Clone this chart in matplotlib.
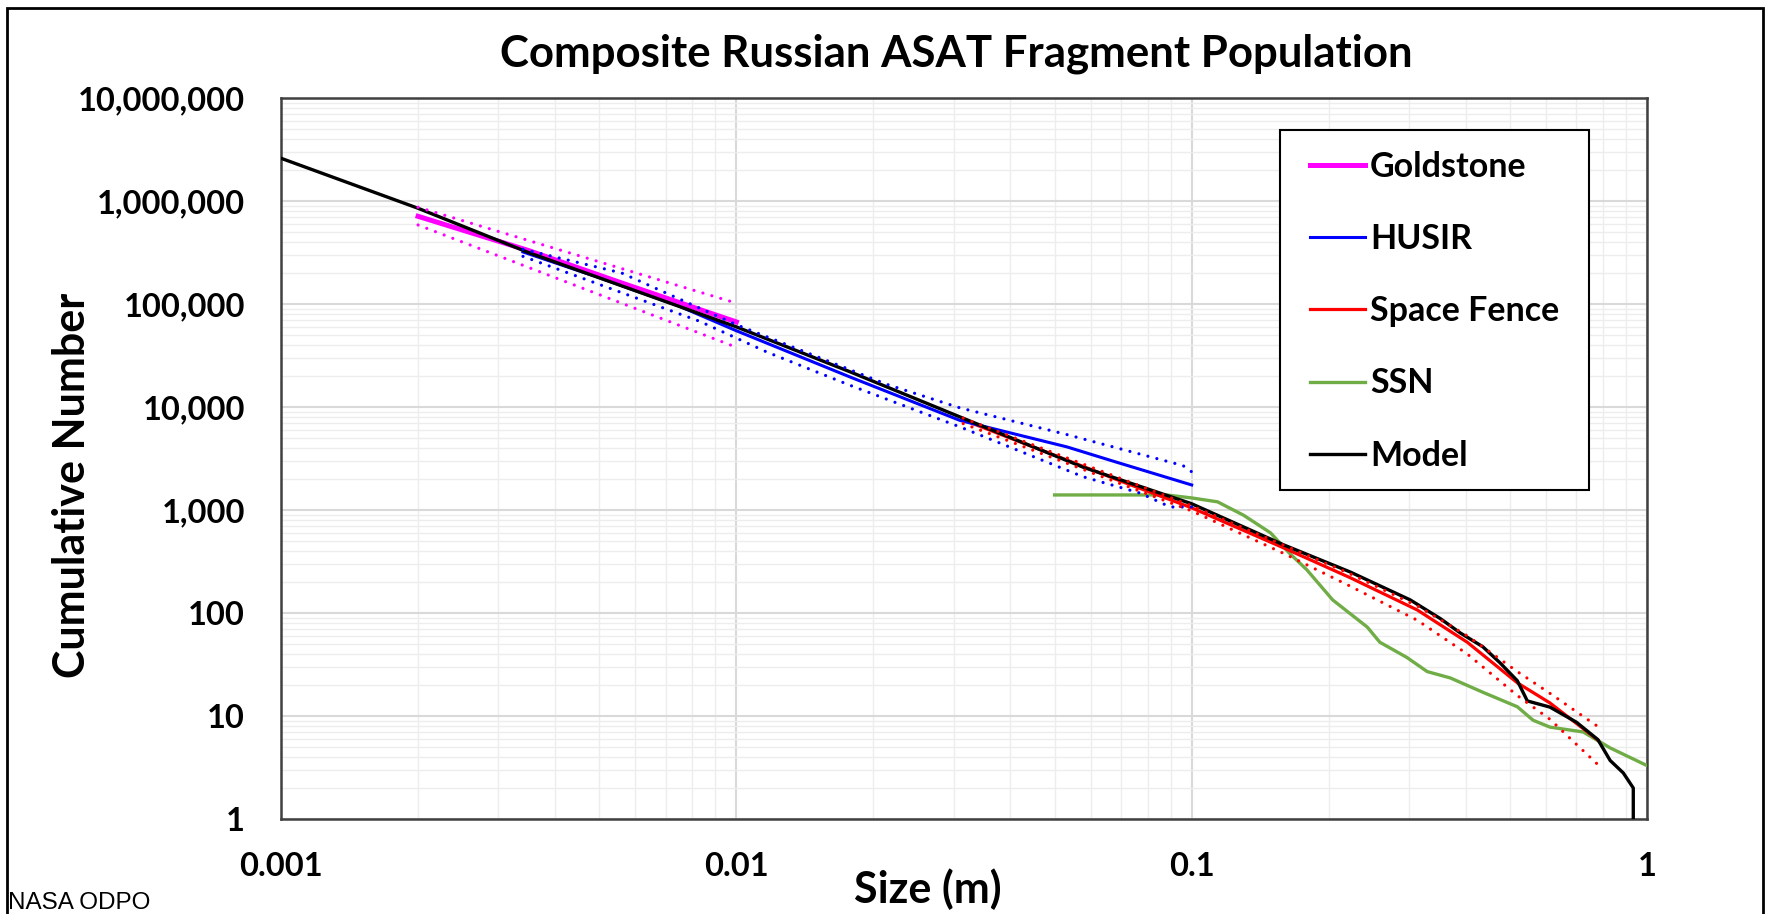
import matplotlib
matplotlib.use('Agg')
import matplotlib.pyplot as plt
from matplotlib.ticker import FixedLocator, FixedFormatter, LogLocator, NullFormatter
from matplotlib.patches import Rectangle

# data (size in m, cumulative number)
model_x = [0.001, 0.002, 0.00347, 0.01, 0.0178, 0.031, 0.0578, 0.1, 0.159, 0.223, 0.263,
           0.302, 0.352, 0.389, 0.436, 0.475, 0.519, 0.546, 0.612, 0.70, 0.78, 0.83, 0.887,
           0.933, 0.933]
model_y = [2.6e6, 8.5e5, 3.2e5, 6.0e4, 2.19e4, 8.0e3, 2.6e3, 1.15e3, 460, 250, 178,
           134, 88, 64, 47, 33, 22, 14, 12.2, 8.7, 5.9, 3.7, 2.8,
           2.0, 1.0]

gold_x = [0.002, 0.0035, 0.0056, 0.01]
gold_y = [7.1e5, 3.3e5, 1.6e5, 6.7e4]
gold_hi_x = [0.002, 0.01]
gold_hi_y = [8.7e5, 1.02e5]
gold_lo_x = [0.002, 0.01]
gold_lo_y = [5.85e5, 3.8e4]

husir_x = [0.0034, 0.005, 0.0075, 0.01, 0.0178, 0.031, 0.0532, 0.0686, 0.1]
husir_y = [3.2e5, 1.8e5, 9.5e4, 5.5e4, 1.95e4, 7.4e3, 4.1e3, 2.9e3, 1.75e3]
husir_hi_x = [0.0034, 0.0056, 0.01, 0.0214, 0.031, 0.0532, 0.0957, 0.1]
husir_hi_y = [3.4e5, 2.0e5, 6.3e4, 1.66e4, 9.8e3, 5.4e3, 2.7e3, 2.35e3]
husir_lo_x = [0.0034, 0.0083, 0.0117, 0.0178, 0.031, 0.0578, 0.077, 0.0897, 0.1]
husir_lo_y = [2.9e5, 6.8e4, 3.4e4, 1.62e4, 6.4e3, 2.1e3, 1.46e3, 1.07e3, 1.07e3]

fence_x = [0.0315, 0.05, 0.07, 0.1, 0.159, 0.223, 0.313, 0.403, 0.519, 0.612, 0.78]
fence_y = [7.5e3, 3.4e3, 1.9e3, 1.05e3, 430, 220, 107, 52, 21, 13.4, 5.85]
fence_b_x = [0.0315, 0.1, 0.159, 0.223, 0.313, 0.403, 0.519, 0.612, 0.79]
fence_hi_y = [7.8e3, 1.1e3, 457, 240, 117, 60, 27, 16.6, 7.6]
fence_lo_y = [6.9e3, 980, 380, 182, 85, 40, 15.8, 9.3, 3.2]

ssn_x = [0.05, 0.088, 0.1, 0.114, 0.13, 0.149, 0.164, 0.179, 0.204, 0.243, 0.259,
         0.297, 0.329, 0.37, 0.436, 0.519, 0.562, 0.612, 0.724, 0.83, 1.0]
ssn_y = [1400, 1400, 1310, 1200, 890, 600, 380, 263, 134, 73, 52,
         37, 27, 23.4, 17, 12.3, 9.1, 7.8, 7.0, 4.9, 3.3]

x_ticks = [0.001, 0.01, 0.1, 1]
x_labels = ['0.001', '0.01', '0.1', '1']
y_ticks = [1, 10, 100, 1000, 1e4, 1e5, 1e6, 1e7]
y_labels = ['1', '10', '100', '1,000', '10,000', '100,000', '1,000,000', '10,000,000']

W, H = 1766, 914
fig = plt.figure(figsize=(W / 100, H / 100), dpi=100)
ax = fig.add_axes([281 / W, 1 - 819 / H, (1647 - 281) / W, (819 - 98) / H])
ax.set_xscale('log')
ax.set_yscale('log')
ax.set_xlim(0.001, 1)
ax.set_ylim(1, 1e7)

ax.plot(ssn_x, ssn_y, color='#70ad47', lw=2.4, label='SSN', zorder=3)
ax.plot(fence_x, fence_y, color='#ff0000', lw=2.3, label='Space Fence', zorder=4)
ax.plot(husir_x, husir_y, color='#0000ff', lw=2.2, label='HUSIR', zorder=4)
ax.plot(gold_x, gold_y, color='#ff00ff', lw=3.6, label='Goldstone', zorder=4)
ax.plot(model_x, model_y, color='black', lw=2.4, label='Model', zorder=5)

# round-dot bounds
dot = (0, (0.01, 2.9))
for xs, ys, c in [(gold_hi_x, gold_hi_y, '#ff00ff'), (gold_lo_x, gold_lo_y, '#ff00ff'),
                  (husir_hi_x, husir_hi_y, '#0000ff'), (husir_lo_x, husir_lo_y, '#0000ff'),
                  (fence_b_x, fence_hi_y, '#ff0000'), (fence_b_x, fence_lo_y, '#ff0000')]:
    ax.plot(xs, ys, color=c, lw=2.3, linestyle=dot, dash_capstyle='round', zorder=6)

ax.xaxis.set_major_locator(FixedLocator(x_ticks))
ax.xaxis.set_major_formatter(FixedFormatter(x_labels))
ax.yaxis.set_major_locator(FixedLocator(y_ticks))
ax.yaxis.set_major_formatter(FixedFormatter(y_labels))
ax.xaxis.set_minor_locator(LogLocator(base=10, subs=range(2, 10)))
ax.yaxis.set_minor_locator(LogLocator(base=10, subs=range(2, 10), numticks=20))
ax.xaxis.set_minor_formatter(NullFormatter())
ax.yaxis.set_minor_formatter(NullFormatter())
ax.tick_params(which='both', length=0)
ax.tick_params(axis='y', pad=26)
ax.tick_params(axis='x', pad=24)
for lab in ax.get_xticklabels() + ax.get_yticklabels():
    lab.set_family('Lato')
    lab.set_fontweight('bold')
    lab.set_fontsize(23.5)

ax.grid(True, which='major', color='#d9d9d9', lw=1.5)
ax.grid(True, which='minor', color='#ededed', lw=1.0)
ax.set_axisbelow(True)
for s in ax.spines.values():
    s.set_color('#404040')
    s.set_linewidth(1.8)

# legend: box drawn by hand, entries placed inside it
box = Rectangle((1280 / W, 1 - 490 / H), (1589 - 1280) / W, (490 - 130) / H,
                transform=fig.transFigure, facecolor='white', edgecolor='black',
                lw=1.5, zorder=9, clip_on=False)
ax.add_patch(box)

handles, labels = ax.get_legend_handles_labels()
order = ['Goldstone', 'HUSIR', 'Space Fence', 'SSN', 'Model']
hl = [handles[labels.index(n)] for n in order]
leg = ax.legend(hl, order, loc='upper left', bbox_to_anchor=(1310 / W, 1 - 151 / H),
                bbox_transform=fig.transFigure, borderaxespad=0, borderpad=0,
                prop={'family': 'Lato', 'weight': 'bold', 'size': 24.5},
                handlelength=1.62, handletextpad=0.15, labelspacing=1.18,
                frameon=False)
leg.set_zorder(10)

fig.text(956 / W, 1 - 66 / H, 'Composite Russian ASAT Fragment Population',
         ha='center', va='baseline', family='Lato', fontweight='bold', fontsize=31.5)
fig.text(928 / W, 1 - 903 / H, 'Size (m)', ha='center', va='baseline',
         family='Lato', fontweight='bold', fontsize=31)
fig.text(72 / W, 1 - 485 / H, 'Cumulative Number', rotation=90, ha='center', va='center',
         family='Lato', fontweight='bold', fontsize=31)
fig.text(8 / W, 1 - 909 / H, 'NASA ODPO', ha='left', va='baseline',
         family='Liberation Sans', fontsize=17.5)

fig.patches.append(Rectangle((7 / W, -0.05), (1763 - 7) / W, 1.05 - 8 / H,
                             transform=fig.transFigure, fill=False,
                             edgecolor='black', lw=2))

fig.savefig('out.png', dpi=100)
